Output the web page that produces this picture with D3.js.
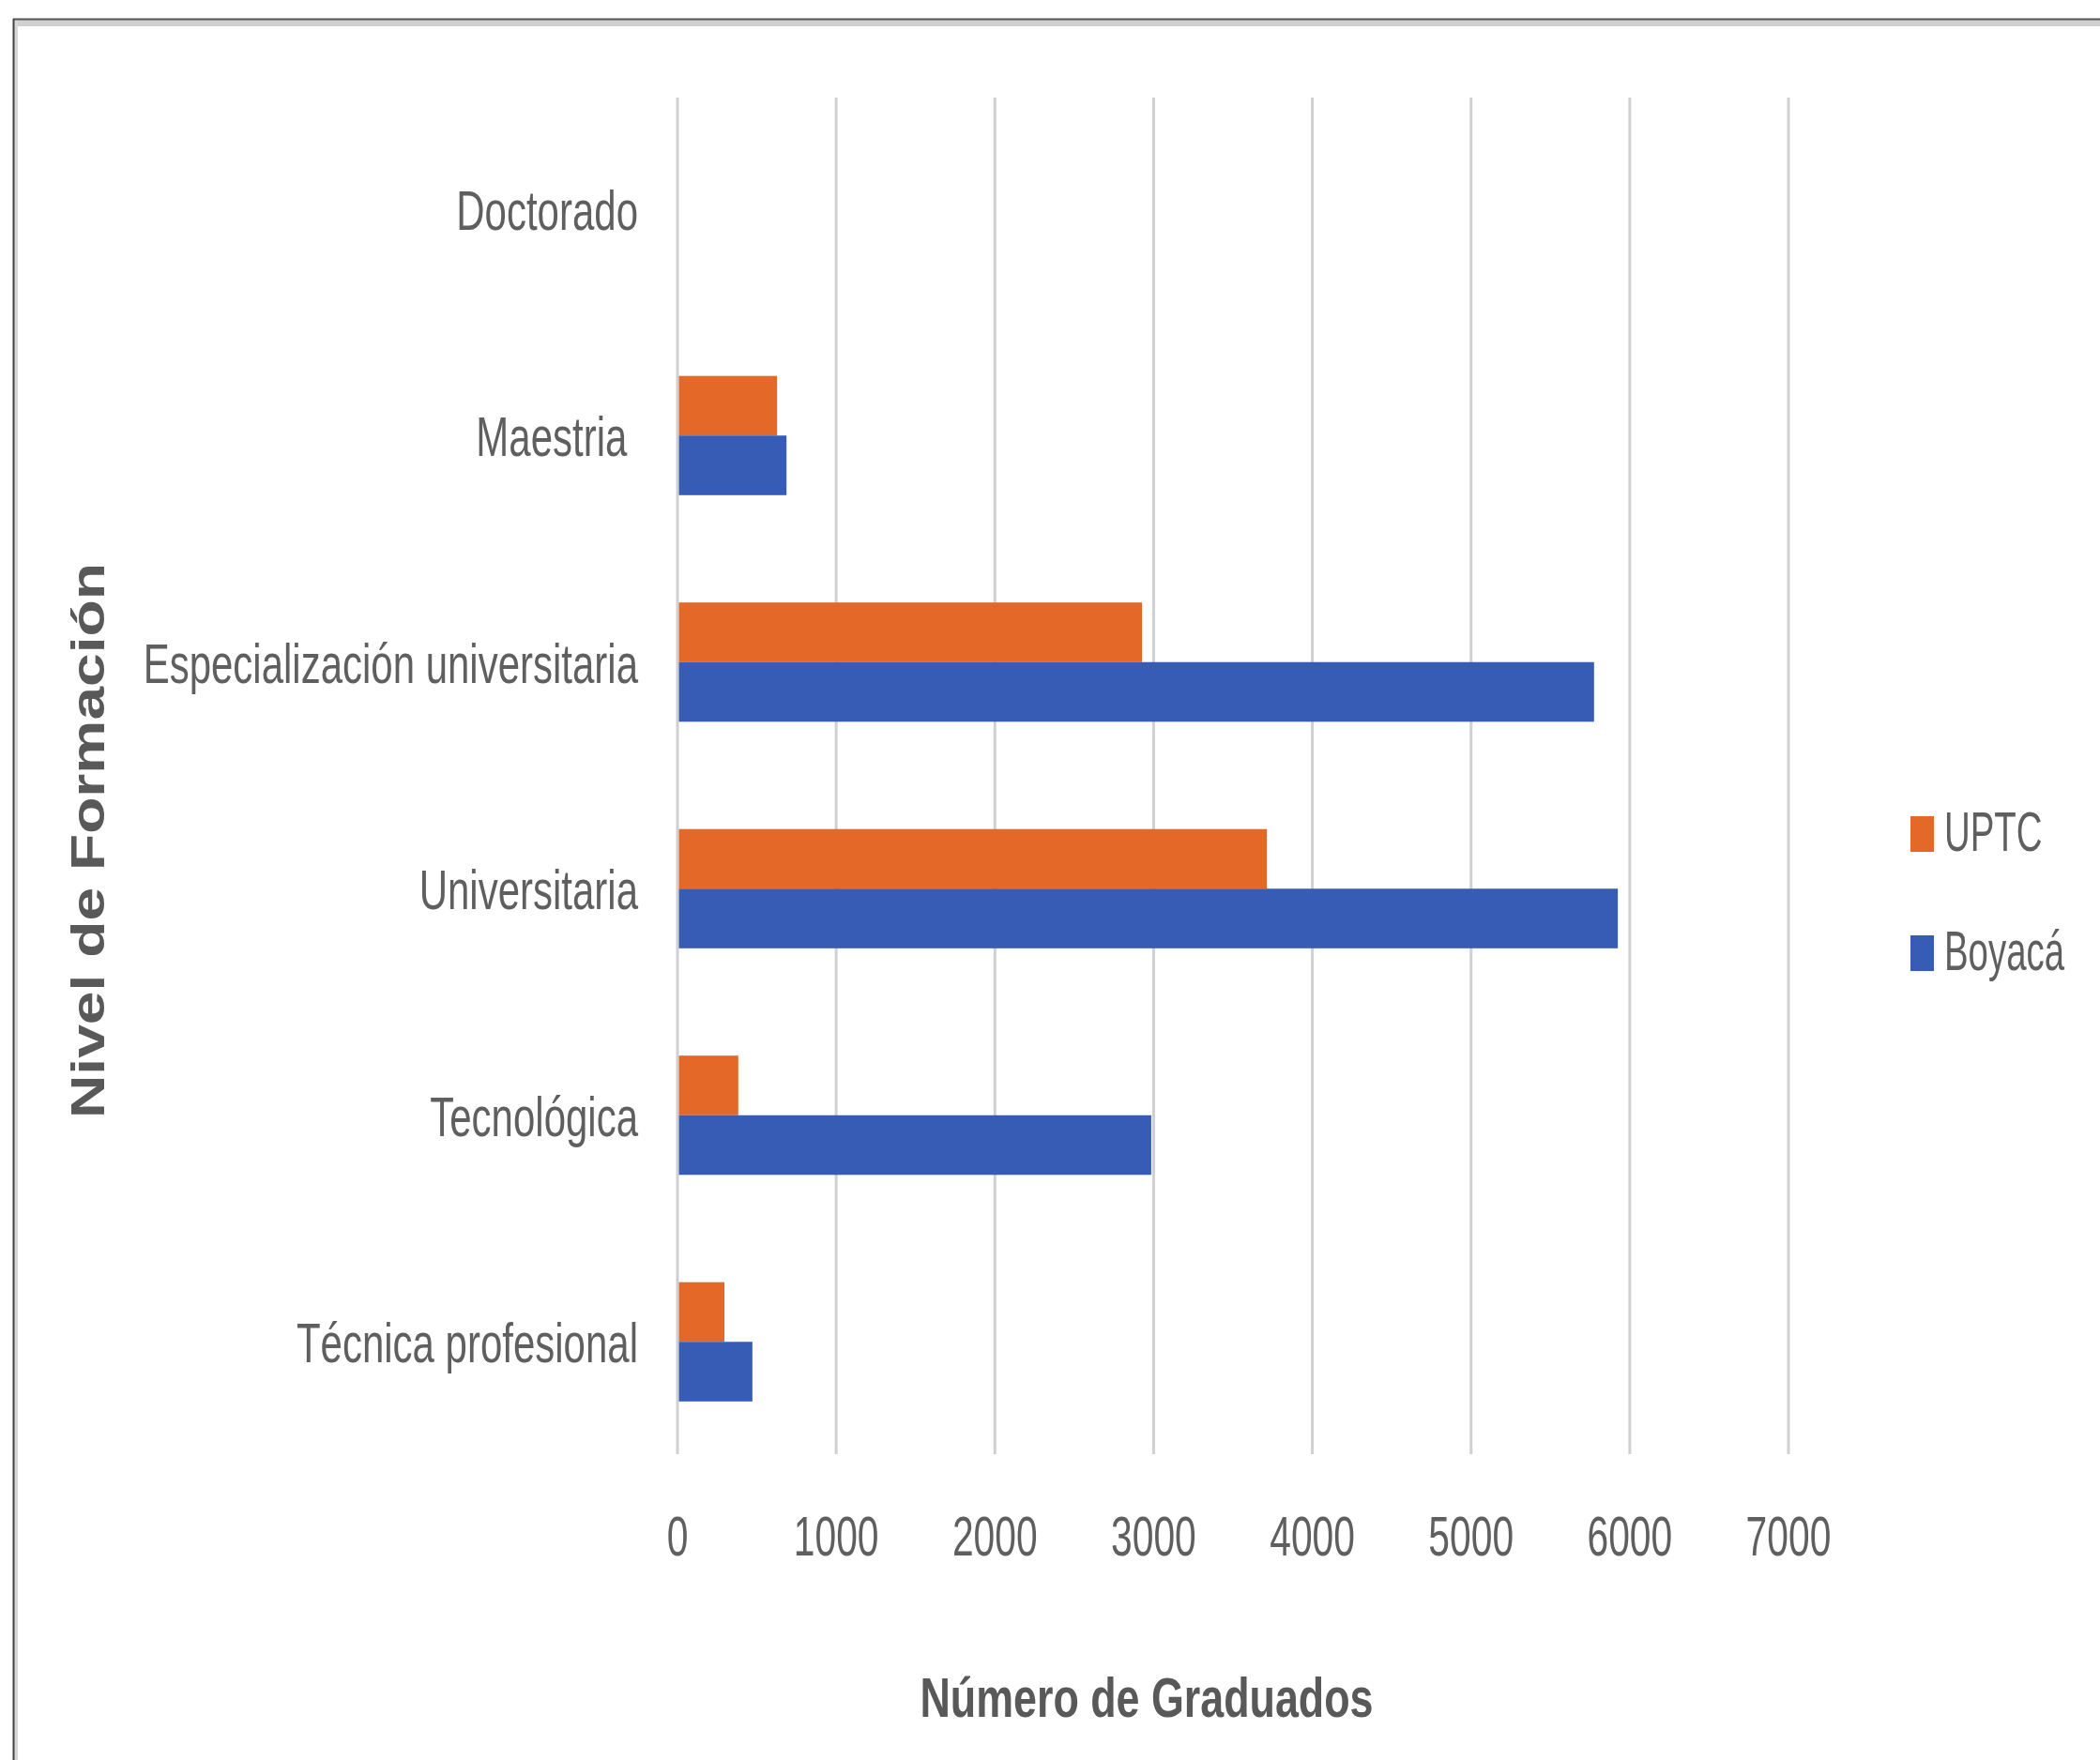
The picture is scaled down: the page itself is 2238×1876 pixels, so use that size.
<!DOCTYPE html>
<html>
<head>
<meta charset="utf-8">
<script src="https://cdn.jsdelivr.net/npm/d3@7"></script>
<style>
    body { margin: 0; background: #fff; }
    text { font-family: "Liberation Sans", Arial, sans-serif; fill: #5f5f5f; }
</style>
</head>
<body>
<div id="chart"></div>
<script>
// datos
let niveles = ["Doctorado", "Maestria ", "Especialización universitaria", "Universitaria", "Tecnológica", "Técnica profesional"];
let series = ["UPTC", "Boyacá"];
let uptc = [0, 628, 2927, 3714, 383, 296];
let boyaca = [0, 687, 5775, 5925, 2985, 472];
let ticks = [0, 1000, 2000, 3000, 4000, 5000, 6000, 7000];

let colores = {"UPTC": "#E46827", "Boyacá": "#375CB5"};

let width = 2238, height = 1876;

let svg = d3.select("#chart").append("svg")
    .attr("width", width)
    .attr("height", height);

// marco
svg.append("rect").attr("x", 14).attr("y", 20).attr("width", width).attr("height", 8).attr("fill", "#d0d0d0");
svg.append("rect").attr("x", 14).attr("y", 20).attr("width", 5).attr("height", height).attr("fill", "#d8d8d8");
svg.append("line").attr("x1", 14).attr("x2", width).attr("y1", 20.5).attr("y2", 20.5).attr("stroke", "#555").attr("stroke-width", 2);
svg.append("line").attr("x1", 14.5).attr("x2", 14.5).attr("y1", 20).attr("y2", height).attr("stroke", "#444").attr("stroke-width", 2);

let x = d3.scaleLinear().domain([0, 7000]).range([722, 1906]);
let y = d3.scaleBand().domain(niveles).range([102, 1551]).paddingInner(0.4737).paddingOuter(0.2368);
let ySub = d3.scaleBand().domain(series).range([0, y.bandwidth()]);

// líneas de división
svg.selectAll(".grid")
    .data(ticks)
    .enter()
    .append("line")
    .attr("class", "grid")
    .attr("x1", d => x(d))
    .attr("x2", d => x(d))
    .attr("y1", 104)
    .attr("y2", 1550)
    .attr("stroke", "#d0d0d0")
    .attr("stroke-width", 3);

let filas = niveles.map((n, i) => ({nivel: n, UPTC: uptc[i], "Boyacá": boyaca[i]}));

let grupos = svg.selectAll(".grupo")
    .data(filas)
    .enter()
    .append("g")
    .attr("class", "grupo")
    .attr("transform", d => "translate(0," + y(d.nivel) + ")");

grupos.selectAll("rect")
    .data(d => series.map(s => ({serie: s, valor: d[s]})))
    .enter()
    .append("rect")
    .attr("x", x(0) + 1.5)
    .attr("y", d => ySub(d.serie))
    .attr("width", d => Math.max(0, x(d.valor) - x(0) - 1.5))
    .attr("height", ySub.bandwidth())
    .attr("fill", d => colores[d.serie]);

// etiquetas de categoría
svg.selectAll(".cat")
    .data(niveles)
    .enter()
    .append("g")
    .attr("class", "cat")
    .attr("transform", d => "translate(680," + (y(d) + y.bandwidth() / 2 + 22) + ") scale(0.7,1)")
    .append("text")
    .attr("text-anchor", "end")
    .attr("font-size", 60)
    .style("white-space", "pre")
    .text(d => d);

// etiquetas de los ejes
svg.selectAll(".tick")
    .data(ticks)
    .enter()
    .append("g")
    .attr("class", "tick")
    .attr("transform", d => "translate(" + x(d) + ",1658) scale(0.68,1)")
    .append("text")
    .attr("text-anchor", "middle")
    .attr("font-size", 60)
    .text(d => d);

svg.append("text")
    .attr("x", 1222)
    .attr("y", 1830)
    .attr("text-anchor", "middle")
    .attr("font-size", 60)
    .attr("font-weight", "bold")
    .attr("textLength", 483)
    .attr("lengthAdjust", "spacingAndGlyphs")
    .style("fill", "#595959")
    .text("Número de Graduados");

svg.append("text")
    .attr("transform", "translate(111,896) rotate(-90)")
    .attr("text-anchor", "middle")
    .attr("font-size", 50)
    .attr("font-weight", "bold")
    .attr("textLength", 592)
    .attr("lengthAdjust", "spacingAndGlyphs")
    .style("fill", "#595959")
    .text("Nivel de Formación");

// leyenda
let leyenda = svg.selectAll(".leyenda")
    .data(series)
    .enter()
    .append("g")
    .attr("class", "leyenda")
    .attr("transform", (d, i) => "translate(2036," + (870 + i * 127) + ")");

leyenda.append("rect")
    .attr("width", 25)
    .attr("height", 38)
    .attr("fill", d => colores[d]);

leyenda.append("g")
    .attr("transform", "translate(36,37) scale(0.64,1)")
    .append("text")
    .attr("font-size", 60)
    .text(d => d);
</script>
</body>
</html>
